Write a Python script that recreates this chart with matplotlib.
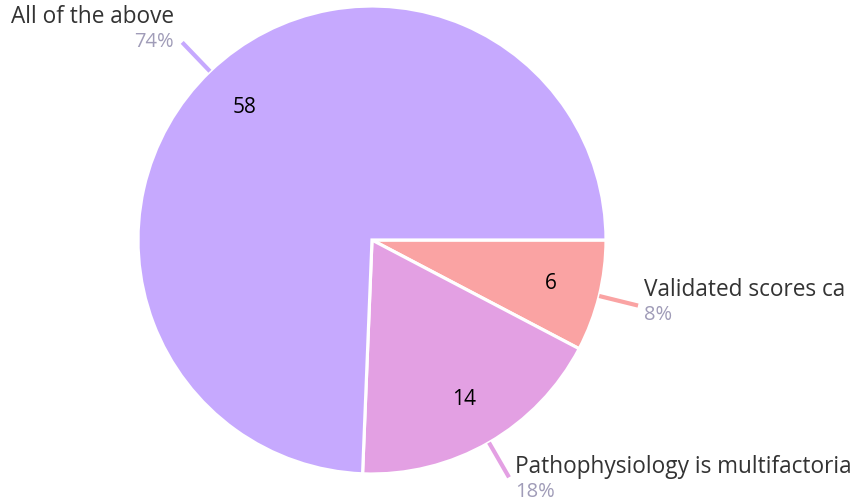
import matplotlib.pyplot as plt
import numpy as np

# Data
categories = ["Validated scores ca", "Pathophysiology is multifactoria", "All of the above"]
counts = [6, 14, 58]

COLORS = ["#faa3a3", "#e3a0e3", "#c6a9fe"]
NAME_COLOR = "#333333"
PCT_COLOR = "#a09cb8"

W, H = 856, 503
CX, CY, R = 372, H - 240, 234

plt.rcParams["font.family"] = ["Open Sans", "DejaVu Sans"]

fig = plt.figure(figsize=(W / 100, H / 100), dpi=100)
ax = fig.add_axes([0, 0, 1, 1])

wedges, texts = ax.pie(
    counts,
    colors=COLORS,
    startangle=0,
    counterclock=False,
    center=(CX, CY),
    radius=R,
    labels=[str(c) for c in counts],
    labeldistance=0.785,
    wedgeprops=dict(edgecolor="white", linewidth=2.3),
    textprops=dict(fontsize=15, color="black", ha="center", va="center"),
)
# pie() resets limits; use pixel coordinates
ax.set_xlim(0, W)
ax.set_ylim(0, H)
ax.set_aspect("equal")
ax.axis("off")

total = sum(counts)
# vertical offset of the name line from the leader end, per slice
name_dy = [16, 10, 25]
for w, name, cnt, dy in zip(wedges, categories, counts, name_dy):
    ang = np.deg2rad((w.theta1 + w.theta2) / 2)
    x0, y0 = CX + R * np.cos(ang), CY + R * np.sin(ang)
    x1, y1 = CX + 274 * np.cos(ang), CY + 274 * np.sin(ang)
    ax.plot([x0, x1], [y0, y1], color=w.get_facecolor(), lw=3, solid_capstyle="butt")
    left = np.cos(ang) < 0
    ha = "right" if left else "left"
    tx = x1 - 8 if left else x1 + 6
    if left:
        ny, py = y1 + dy, y1
    else:
        ny, py = y1 + dy, y1 + dy - 25
    ax.text(tx, ny, name, ha=ha, va="center", fontsize=16.3, color=NAME_COLOR)
    ax.text(tx, py, f"{cnt / total * 100:.0f}%", ha=ha, va="center", fontsize=14.5, color=PCT_COLOR)

fig.savefig("out.png", dpi=100, facecolor="white")
